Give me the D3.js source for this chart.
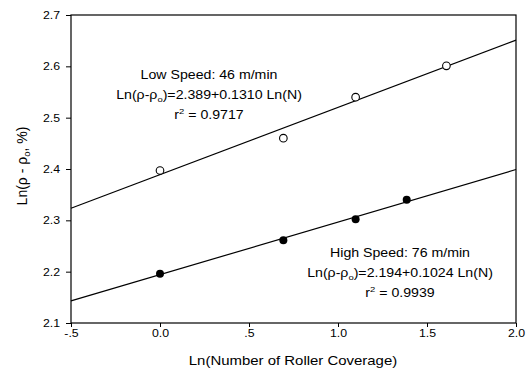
<!DOCTYPE html>
<html>
<head>
<meta charset="utf-8">
<script src="https://cdn.jsdelivr.net/npm/d3@7"></script>
<style>
  body { margin: 0; background: #fff; }
  svg { display: block; }
</style>
</head>
<body>
<div id="chart"></div>
<script>
// tick values and labels
const xTicks = [-0.5, 0.0, 0.5, 1.0, 1.5, 2.0];
const xTickLabels = ["-.5", "0.0", ".5", "1.0", "1.5", "2.0"];
const yTicks = [2.1, 2.2, 2.3, 2.4, 2.5, 2.6, 2.7];

// measured points (Ln N, Ln(rho - rho0))
const lnNLow = [0, 0.693, 1.099, 1.609];
const lowSpeed = [2.397, 2.460, 2.540, 2.601];
const lnNHigh = [0, 0.693, 1.099, 1.386];
const highSpeed = [2.196, 2.261, 2.302, 2.340];

// regression lines, ends at the plot edges
const fitX = [-0.5, 2.0];
const lowFit = [2.3235, 2.651];
const highFit = [2.143, 2.399];

const lowLabel = ["Low Speed: 46 m/min", "2.389+0.1310 Ln(N)", "0.9717"];
const highLabel = ["High Speed: 76 m/min", "2.194+0.1024 Ln(N)", "0.9939"];

const W = 531, H = 372;
const margin = { top: 15, right: 15, bottom: 49, left: 71 };
const width = W - margin.left - margin.right;
const height = H - margin.top - margin.bottom;
const font = "'Liberation Sans', Arial, Helvetica, sans-serif";
const sx = 1.18; // the scan is stretched sideways

const svg = d3.select("#chart").append("svg")
    .attr("width", W)
    .attr("height", H)
    .attr("font-family", font);

const g = svg.append("g")
    .attr("transform", `translate(${margin.left},${margin.top})`);

const x = d3.scaleLinear().domain([-0.5, 2.0]).range([0, width]);
const y = d3.scaleLinear().domain([2.1, 2.7]).range([height, 0]);

// axes
const yAxis = g.append("g")
    .call(d3.axisLeft(y).tickValues(yTicks).tickSize(5).tickSizeOuter(0)
        .tickPadding(6).tickFormat(d3.format(".1f")));
yAxis.select(".domain").remove();
yAxis.selectAll("text")
    .attr("font-size", 11).attr("font-family", font).attr("fill", "#000")
    .attr("transform", `scale(1.12,1)`)
    .attr("x", -11 / 1.12);

const xAxis = g.append("g")
    .attr("transform", `translate(0,${height})`)
    .call(d3.axisBottom(x).tickValues(xTicks).tickSize(4).tickSizeOuter(0)
        .tickPadding(2).tickFormat((d, i) => xTickLabels[i]));
xAxis.select(".domain").remove();
xAxis.selectAll("text")
    .attr("font-size", 11).attr("font-family", font).attr("fill", "#000")
    .attr("transform", `scale(1.12,1)`);

// frame
g.append("rect")
    .attr("width", width).attr("height", height)
    .attr("fill", "none").attr("stroke", "#000").attr("stroke-width", 1.2);

// fit lines
const line = d3.line().x(d => x(d[0])).y(d => y(d[1]));
g.append("path").datum(d3.zip(fitX, lowFit))
    .attr("d", line).attr("fill", "none").attr("stroke", "#000").attr("stroke-width", 1.2);
g.append("path").datum(d3.zip(fitX, highFit))
    .attr("d", line).attr("fill", "none").attr("stroke", "#000").attr("stroke-width", 1.2);

// points
g.selectAll(".low").data(d3.zip(lnNLow, lowSpeed)).join("circle")
    .attr("class", "low")
    .attr("cx", d => x(d[0])).attr("cy", d => y(d[1])).attr("r", 3.8)
    .attr("fill", "#fff").attr("stroke", "#000").attr("stroke-width", 1.1);
g.selectAll(".high").data(d3.zip(lnNHigh, highSpeed)).join("circle")
    .attr("class", "high")
    .attr("cx", d => x(d[0])).attr("cy", d => y(d[1])).attr("r", 4)
    .attr("fill", "#000");

// text block helper, stretched horizontally like the scan
function textAt(px, py, size, stretch, build) {
    const t = svg.append("text")
        .attr("transform", `translate(${px},${py}) scale(${stretch},1)`)
        .attr("text-anchor", "middle")
        .attr("font-size", size);
    build(t);
    return t;
}

function annotation(cx, baseY, lines) {
    textAt(cx, baseY, 12, sx, t => t.text(lines[0]));
    textAt(cx, baseY + 20, 12, sx, t => {
        t.append("tspan").text("Ln(\u03c1-\u03c1");
        t.append("tspan").attr("font-size", 8).attr("dy", 3).text("o");
        t.append("tspan").attr("dy", -3).text(")=" + lines[1]);
    });
    textAt(cx, baseY + 40, 12, sx, t => {
        t.append("tspan").text("r");
        t.append("tspan").attr("font-size", 8).attr("dy", -5).text("2");
        t.append("tspan").attr("dy", 5).text(" = " + lines[2]);
    });
}

annotation(209, 79, lowLabel);
annotation(400, 257, highLabel);

// axis titles
textAt(293, 365, 13, 1.15, t => t.text("Ln(Number of Roller Coverage)"));

svg.append("text")
    .attr("transform", `translate(27,166) rotate(-90)`)
    .attr("text-anchor", "middle")
    .attr("font-size", 14)
    .call(t => {
        t.append("tspan").text("Ln(\u03c1 - \u03c1");
        t.append("tspan").attr("font-size", 9.5).attr("dy", 3).text("o");
        t.append("tspan").attr("dy", -3).text(", %)");
    });
</script>
</body>
</html>
